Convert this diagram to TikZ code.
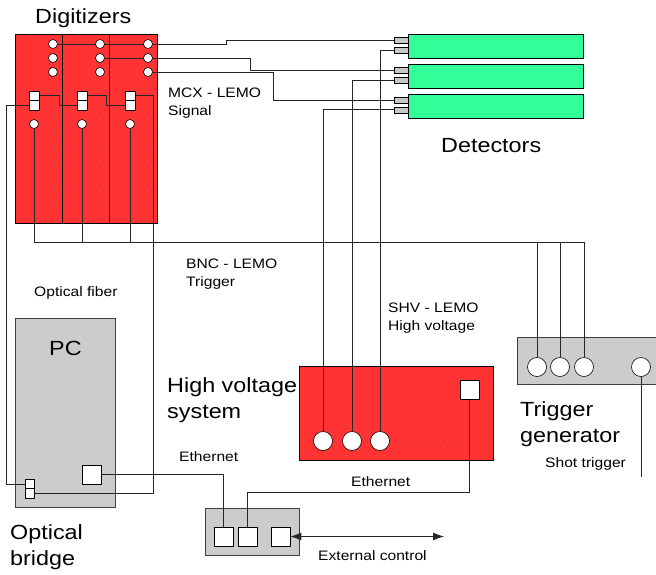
\documentclass[tikz,border=0pt]{standalone}
\usepackage{fontspec}
\setmainfont{Liberation Sans}[FakeStretch=1.14]
\usepackage{tikz}
\usetikzlibrary{arrows.meta}
\definecolor{board}{HTML}{FF3333}
\definecolor{detgreen}{HTML}{33FF99}
\definecolor{case}{HTML}{CCCCCC}
\definecolor{wirecol}{HTML}{262626}
\pgfdeclarelayer{boxes}
\pgfdeclarelayer{wires}
\pgfsetlayers{boxes,wires,main}
\tikzset{
  boxline/.style={draw=black, line width=0.8pt, inner sep=0pt, outer sep=0pt},
  redbox/.style={boxline, fill=board},
  greybox/.style={boxline, draw=black!75, fill=case},
  detbox/.style={boxline, fill=detgreen, minimum width=175pt, minimum height=24pt},
  jack/.style={draw=black, line width=0.6pt, fill=white, circle, inner sep=0pt, minimum size=9pt},
  bigjack/.style={jack, minimum size=19pt},
  socket/.style={draw=black, line width=0.6pt, fill=white, inner sep=0pt, minimum width=10pt, minimum height=9.5pt},
  bigsocket/.style={socket, minimum width=19pt, minimum height=19pt},
  lemo/.style={draw=black, line width=0.6pt, fill=black!22, inner sep=0pt, minimum width=14pt, minimum height=6pt},
  wire/.style={draw=wirecol, line width=0.8pt},
  bigtext/.style={font=\fontsize{20.5}{26}\selectfont, inner sep=0pt, align=left, anchor=north west},
  lab/.style={font=\fontsize{13.7}{18}\selectfont, inner sep=0pt, align=left, anchor=north west},
}
\begin{document}
\begin{tikzpicture}[x=1pt, y=-1pt]
\useasboundingbox (0,0) rectangle (656,574);

% housings
\begin{pgfonlayer}{boxes}
\foreach \i/\x in {1/38.67, 2/86, 3/133.33}
  \node[redbox, minimum width=47.33pt, minimum height=189pt] (dig\i) at (\x,128.5) {};
\node[greybox, minimum width=100pt, minimum height=189pt] (pc) at (65,412.5) {};
\node[greybox, minimum width=94pt, minimum height=47pt] (switch) at (252,531.5) {};
\node[redbox, minimum width=194pt, minimum height=94pt] (hv) at (396,413) {};
\node[greybox, minimum width=140pt, minimum height=47pt] (trig) at (587,360.5) {};
\foreach \i/\y in {1/46, 2/76, 3/106}
  \node[detbox] (det\i) at (495.5,\y) {};
\end{pgfonlayer}

% digitizer front panels
\foreach \i/\x/\xx in {1/53/34, 2/100/82, 3/148/130}{
  \node[jack] (sa\i) at (\x,44) {};
  \node[jack] (sb\i) at (\x,58) {};
  \node[jack] (sc\i) at (\x,72) {};
  \node[socket] (ou\i) at (\xx,95.75) {};
  \node[socket] (ol\i) at (\xx,105.25) {};
  \node[jack] (tr\i) at (\xx,124) {};
  \foreach \y in {113,132,150,167,185,203}
    \fill[black!70] (\x,\y) circle (0.6pt);
}

% detector connectors
\foreach \i/\y in {1/40.7, 2/70.7, 3/100.3}{
  \node[lemo] (du\i) at (401,\y) {};
  \node[lemo] (dl\i) at (401,\y+9.5) {};
}

% PC, optical bridge, switch
\node[socket, minimum width=9pt] (obu) at (29.5,484) {};
\node[socket, minimum width=9pt] (obl) at (29.5,493.5) {};
\node[bigsocket] (pcnet) at (91.5,474.5) {};
\node[bigsocket] (sw1) at (223.5,536.5) {};
\node[bigsocket] (sw2) at (247.5,536.5) {};
\node[bigsocket] (sw3) at (280.5,536.5) {};

% high voltage system
\foreach \i/\x in {1/323, 2/352, 3/380}
  \node[bigjack] (hv\i) at (\x,441) {};
\node[bigsocket] (hvnet) at (469.5,389.5) {};
\foreach \x in {408,426,444,462}
  \fill[black!70] (\x,441) circle (0.6pt);

% trigger generator
\foreach \i/\x in {1/537, 2/560, 3/584, 4/641}
  \node[bigjack] (tg\i) at (\x,367) {};

\coordinate (shot) at (641,477);
\coordinate (ext) at (444,536.5);

% cables
\begin{pgfonlayer}{wires}
\draw[wire] (sa1.east) -- ++(168.5,0) |- (du1.west);
\draw[wire] (sb2.east) -- ++(145.5,0) |- (du2.west);
\draw[wire] (sc3.east) -- ++(120.5,0) |- (du3.west);
\draw[wire] (hv1.north) |- (dl3.west);
\draw[wire] (hv2.north) |- (dl2.west);
\draw[wire] (hv3.north) |- (dl1.west);
\draw[wire] (tr1.south) -- ++(0,113.5) -| (tg3.north);
\draw[wire] (tr2.south) -- ++(0,113.5) -| (tg2.north);
\draw[wire] (tr3.south) -- ++(0,113.5) -| (tg1.north);
\draw[wire] (tg4.south) -- (shot);
\draw[wire] (ou1.east) -- ++(19.7,0) |- (ol2.west);
\draw[wire] (ou2.east) -- ++(19,0) |- (ol3.west);
\draw[wire] (ou3.east) -- ++(18,0) |- (obl.east);
\draw[wire] (ol1.west) -- ++(-22,0) |- (obu.west);
\draw[wire] (pcnet.east) -| (sw1.north);
\draw[wire] (hvnet.south) -- ++(0,93.5) -| (sw2.north);
\draw[wire, {Latex[length=11pt,width=8pt]}-{Latex[length=11pt,width=8pt]}] (sw3.east) -- (ext);
\end{pgfonlayer}

% labels
\node[bigtext] (tdig) at (35,8) {Digitizers};
\node[bigtext] (tdet) at (441,138) {Detectors};
\node[bigtext] (tpc) at (49,341) {PC};
\node[bigtext] (thv) at (167,377) {High voltage\\system};
\node[bigtext] (ttrig) at (520,401) {Trigger\\generator};
\node[bigtext] (tob) at (10,524) {Optical\\bridge};
\node[lab] (tmcx) at (168,88) {MCX - LEMO\\Signal};
\node[lab] (tbnc) at (186,259) {BNC - LEMO\\Trigger};
\node[lab] (tfib) at (34,286) {Optical fiber};
\node[lab] (tshv) at (388,303) {SHV - LEMO\\High voltage};
\node[lab] (tshot) at (545,457) {Shot trigger};
\node[lab] (teth1) at (179,451) {Ethernet};
\node[lab] (teth2) at (351,476) {Ethernet};
\node[lab] (text) at (318,550) {External control};
\end{tikzpicture}
\end{document}
